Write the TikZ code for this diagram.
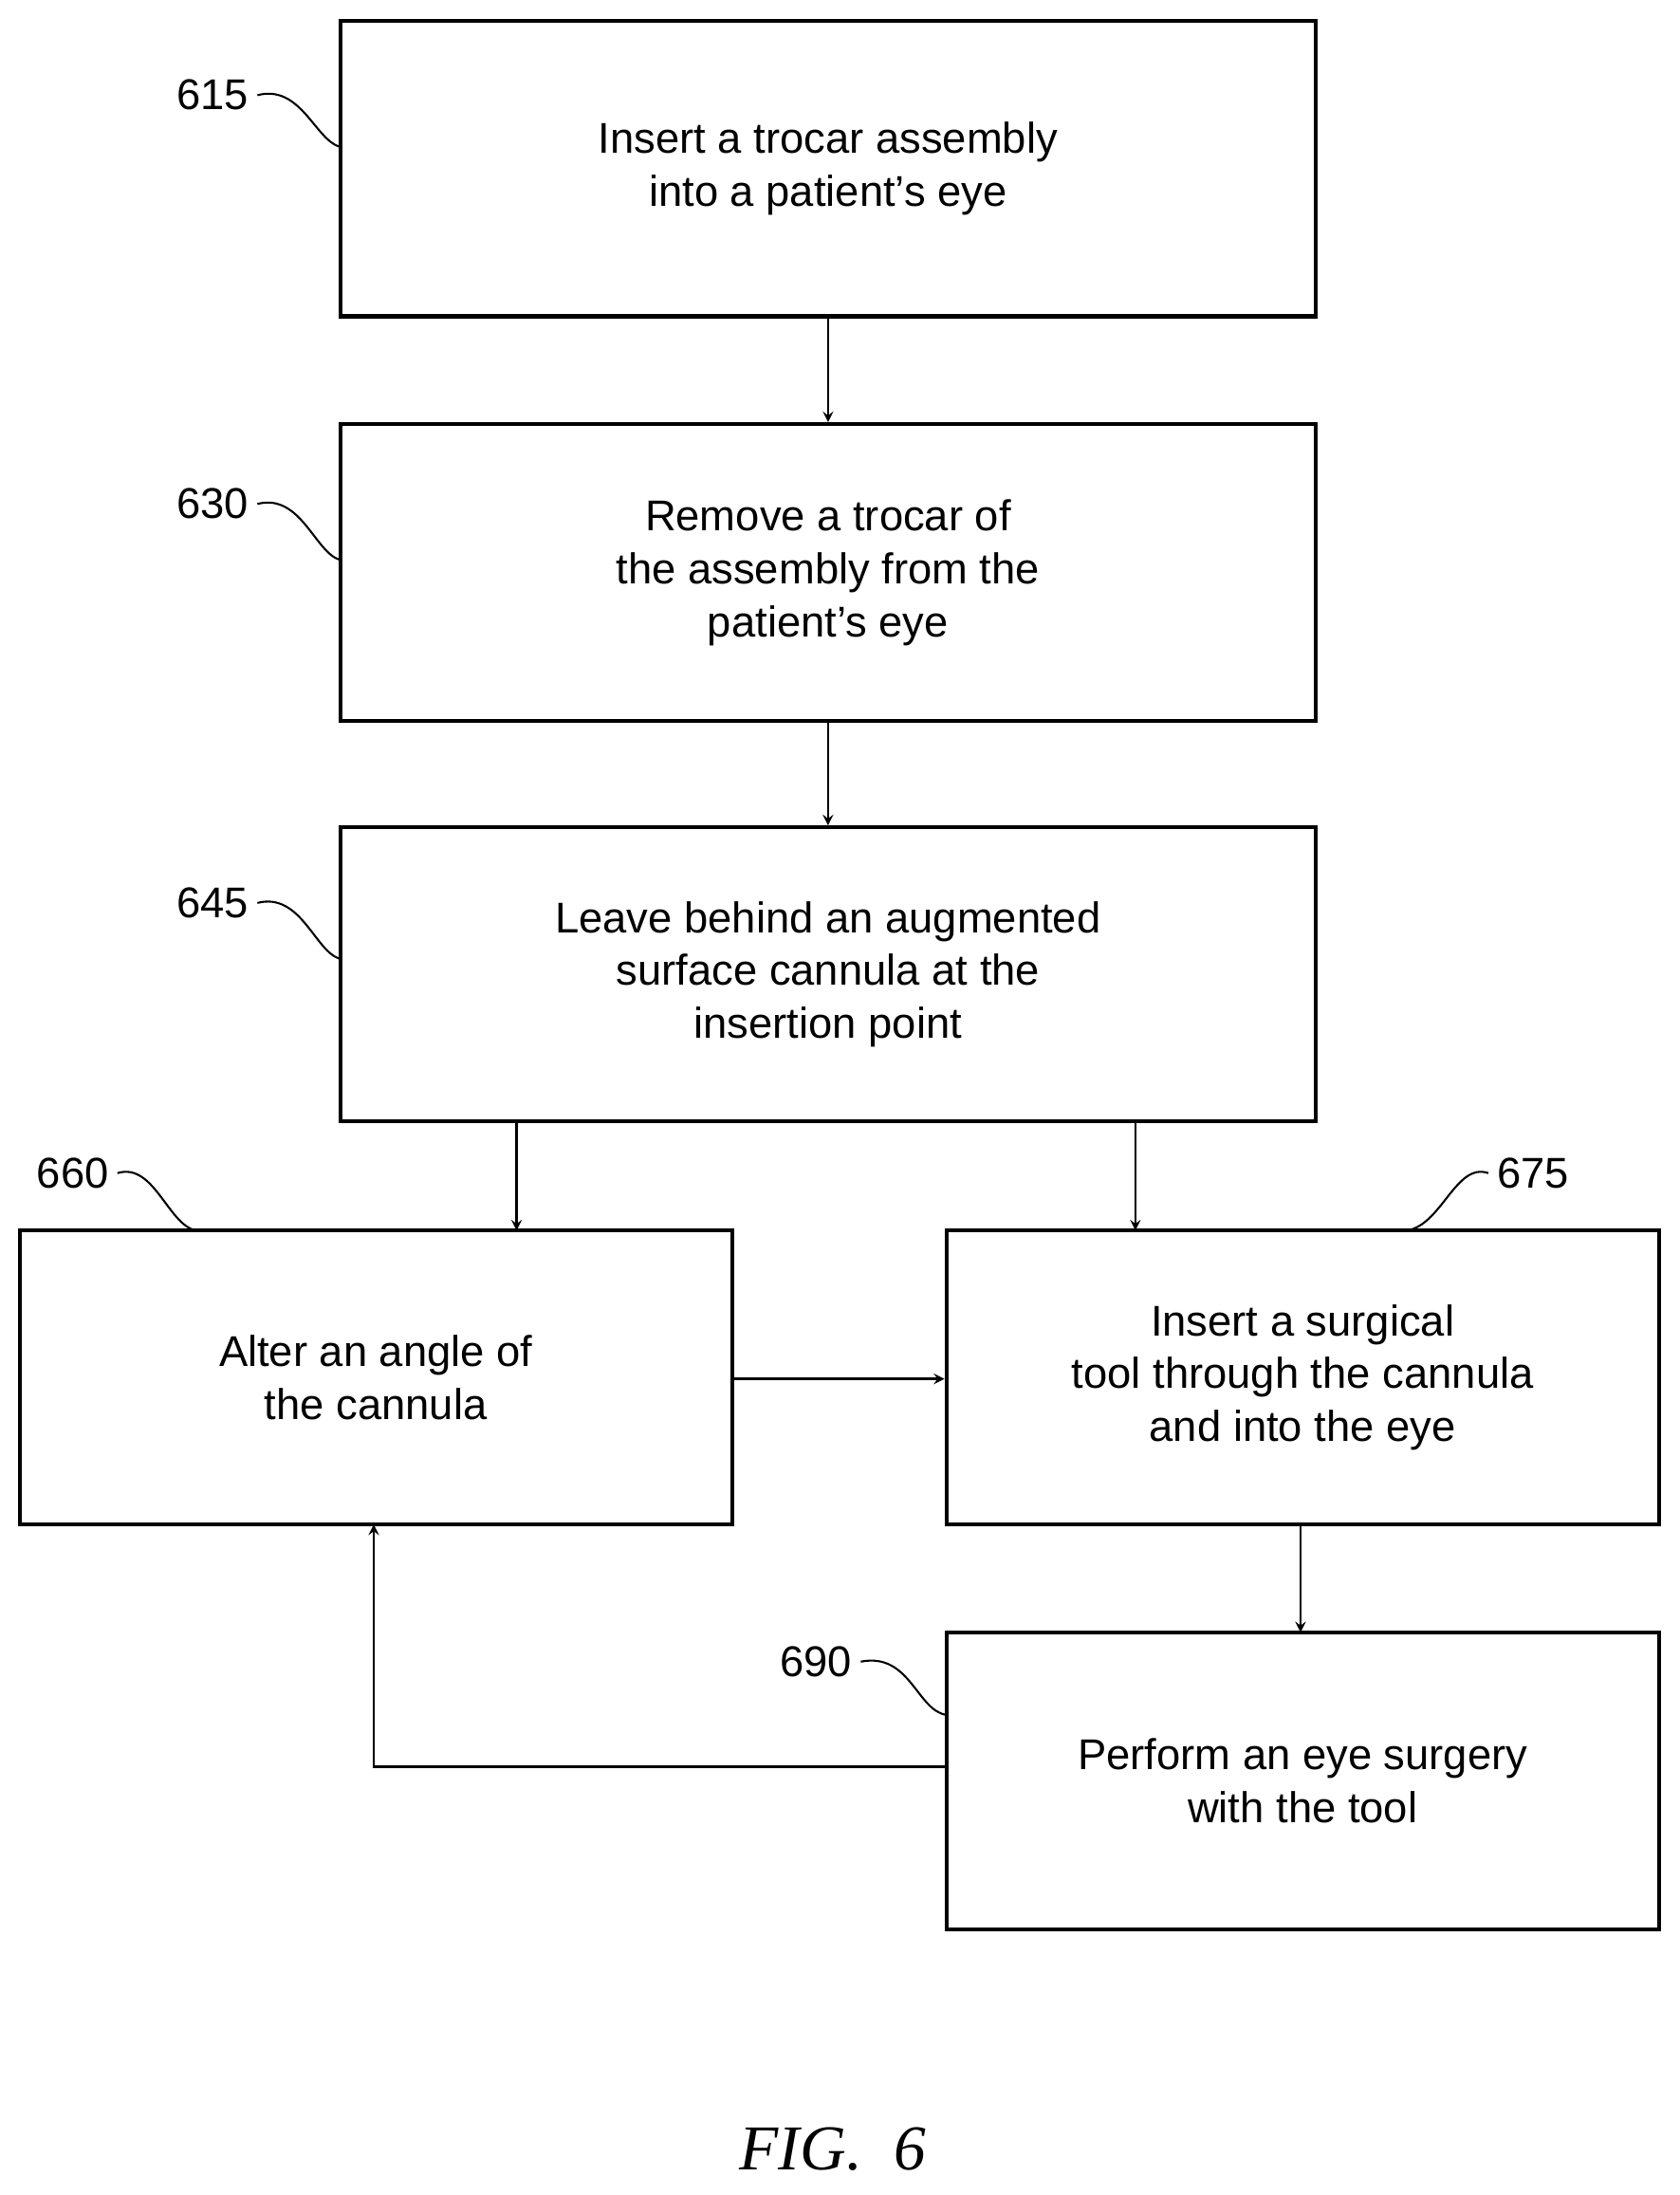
\documentclass[tikz,border=0pt]{standalone}
\usepackage{fontspec}
\setmainfont{Liberation Sans}
\newfontfamily\figfont{Liberation Serif}
\begin{document}
\begin{tikzpicture}[x=0.02cm,y=-0.02cm,
 box/.style={draw,line width=1.6pt,align=center,inner sep=0,font=\fontsize{17.5}{21.5}\selectfont},
 arr/.style={->,>=stealth,line width=0.9pt},
 lab/.style={font=\fontsize{17.5}{20}\selectfont},
 sq/.style={line width=0.8pt}]
\useasboundingbox (0,0) rectangle (1200,1568);
\newcommand\mybox[6]{\node[box,minimum width=#4*0.02cm-#2*0.02cm,minimum height=#5*0.02cm-#3*0.02cm] (#1) at ({(#2+#4)/2},{(#3+#5)/2}) {#6};}
\mybox{b615}{243}{15}{940}{226}{Insert a trocar assembly\\into a patient's eye}
\mybox{b630}{243}{303}{940}{515}{Remove a trocar of\\the assembly from the\\patient's eye}
\mybox{b645}{243}{591}{940}{801}{Leave behind an augmented\\surface cannula at the\\insertion point}
\mybox{b660}{14}{879}{523}{1089}{Alter an angle of\\the cannula}
\mybox{b675}{676}{879}{1185}{1089}{Insert a surgical\\tool through the cannula\\and into the eye}
\mybox{b690}{676}{1166}{1185}{1378}{Perform an eye surgery\\with the tool}
\draw[arr] (b615) -- (b630);
\draw[arr] (b630) -- (b645);
\draw[arr] (369,801) -- (369,879);
\draw[arr] (811,801) -- (811,879);
\draw[arr] (b660.east |- 0,985) -- (b675.west |- 0,985);
\draw[arr] (929,1089) -- (929,1166);
\draw[arr] (b690.west |- 0,1262) -- (267,1262) -- (267,1089);
\node[lab] (l615) at (152,68) {615};
\node[lab] (l630) at (152,360) {630};
\node[lab] (l645) at (152,645) {645};
\node[lab] (l660) at (52,838) {660};
\node[lab] (l675) at (1095,838) {675};
\node[lab] (l690) at (583,1187) {690};
\draw[sq] (l615.east) .. controls (215,60) and (225,100) .. (243,105);
\draw[sq] (l630.east) .. controls (215,352) and (225,395) .. (243,400);
\draw[sq] (l645.east) .. controls (215,637) and (225,680) .. (243,685);
\draw[sq] (l660.east) .. controls (110,830) and (120,875) .. (140,879);
\draw[sq] (l675.west) .. controls (1040,830) and (1030,875) .. (1005,879);
\draw[sq] (l690.east) .. controls (650,1180) and (655,1222) .. (676,1225);
\node[font=\figfont\itshape\fontsize{26}{30}\selectfont] (fig) at (595,1535) {FIG.\ \ 6};
\end{tikzpicture}
\end{document}
